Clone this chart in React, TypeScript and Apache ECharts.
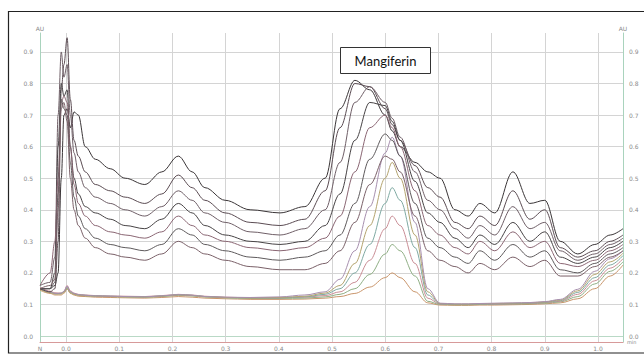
import React, { useEffect, useRef } from 'react';
import * as echarts from 'echarts';

// retention time axis keypoints
const times = [-0.049, -0.030, -0.021, -0.015, -0.009, -0.004, 0.002, 0.008, 0.015, 0.023, 0.036, 0.055, 0.083, 0.111, 0.148, 0.180, 0.211, 0.237, 0.261, 0.299, 0.346, 0.402, 0.449, 0.487, 0.515, 0.543, 0.571, 0.600, 0.613, 0.628, 0.656, 0.680, 0.703, 0.731, 0.756, 0.778, 0.806, 0.840, 0.872, 0.900, 0.929, 0.962, 0.994, 1.023, 1.047];

// sample extracts
const sample1 = [0.15, 0.15, 0.16, 0.2, 0.5, 0.7, 0.72, 0.66, 0.71, 0.7, 0.6, 0.56, 0.53, 0.5, 0.48, 0.52, 0.57, 0.52, 0.47, 0.43, 0.4, 0.39, 0.41, 0.5, 0.72, 0.81, 0.78, 0.7, 0.65, 0.6, 0.55, 0.52, 0.5, 0.4, 0.38, 0.42, 0.39, 0.52, 0.42, 0.43, 0.3, 0.26, 0.29, 0.32, 0.34];
const sample2 = [0.15, 0.14, 0.15, 0.3, 0.78, 0.86, 0.945, 0.75, 0.62, 0.57, 0.52, 0.48, 0.46, 0.44, 0.42, 0.45, 0.51, 0.47, 0.43, 0.39, 0.36, 0.35, 0.37, 0.46, 0.66, 0.8, 0.79, 0.72, 0.67, 0.62, 0.54, 0.47, 0.44, 0.36, 0.34, 0.38, 0.35, 0.46, 0.37, 0.4, 0.28, 0.25, 0.27, 0.3, 0.32];
const sample3 = [0.16, 0.17, 0.25, 0.7, 0.9, 0.82, 0.86, 0.7, 0.58, 0.52, 0.47, 0.44, 0.42, 0.4, 0.38, 0.41, 0.46, 0.43, 0.39, 0.36, 0.33, 0.32, 0.34, 0.4, 0.55, 0.74, 0.79, 0.74, 0.69, 0.63, 0.52, 0.43, 0.4, 0.34, 0.31, 0.35, 0.32, 0.41, 0.34, 0.36, 0.27, 0.24, 0.26, 0.29, 0.31];
const sample4 = [0.15, 0.15, 0.2, 0.6, 0.8, 0.76, 0.78, 0.6, 0.5, 0.45, 0.41, 0.39, 0.37, 0.35, 0.34, 0.37, 0.42, 0.39, 0.35, 0.32, 0.3, 0.29, 0.3, 0.35, 0.45, 0.62, 0.74, 0.73, 0.68, 0.62, 0.49, 0.39, 0.36, 0.31, 0.28, 0.32, 0.29, 0.36, 0.3, 0.33, 0.25, 0.23, 0.25, 0.28, 0.3];
const sample5 = [0.16, 0.2, 0.3, 0.5, 0.74, 0.76, 0.74, 0.6, 0.48, 0.42, 0.38, 0.35, 0.33, 0.32, 0.31, 0.33, 0.38, 0.35, 0.32, 0.3, 0.28, 0.27, 0.28, 0.31, 0.38, 0.52, 0.66, 0.7, 0.66, 0.6, 0.46, 0.35, 0.32, 0.28, 0.26, 0.3, 0.27, 0.33, 0.28, 0.3, 0.23, 0.22, 0.24, 0.27, 0.29];
const sample6 = [0.15, 0.15, 0.17, 0.45, 0.75, 0.72, 0.7, 0.55, 0.44, 0.38, 0.34, 0.31, 0.29, 0.28, 0.27, 0.29, 0.34, 0.32, 0.29, 0.27, 0.25, 0.24, 0.25, 0.27, 0.32, 0.42, 0.56, 0.64, 0.62, 0.57, 0.42, 0.31, 0.28, 0.25, 0.23, 0.27, 0.24, 0.29, 0.25, 0.27, 0.21, 0.2, 0.23, 0.26, 0.28];
const sample7 = [0.15, 0.16, 0.18, 0.4, 0.72, 0.74, 0.68, 0.5, 0.4, 0.35, 0.31, 0.28, 0.26, 0.25, 0.24, 0.26, 0.3, 0.28, 0.26, 0.24, 0.22, 0.21, 0.21, 0.23, 0.27, 0.36, 0.48, 0.57, 0.56, 0.52, 0.38, 0.27, 0.24, 0.22, 0.2, 0.23, 0.21, 0.25, 0.22, 0.24, 0.19, 0.19, 0.22, 0.25, 0.27];

// mangiferin standards
const standard1 = [0.145, 0.135, 0.13, 0.13, 0.13, 0.135, 0.15, 0.135, 0.13, 0.126, 0.125, 0.123, 0.122, 0.121, 0.12, 0.122, 0.125, 0.123, 0.12, 0.118, 0.116, 0.116, 0.117, 0.12, 0.125, 0.135, 0.155, 0.185, 0.2, 0.185, 0.14, 0.105, 0.098, 0.097, 0.097, 0.098, 0.098, 0.099, 0.1, 0.102, 0.105, 0.118, 0.15, 0.19, 0.225];
const standard2 = [0.15, 0.14, 0.135, 0.135, 0.135, 0.14, 0.155, 0.14, 0.134, 0.13, 0.128, 0.126, 0.125, 0.124, 0.123, 0.125, 0.129, 0.127, 0.124, 0.121, 0.119, 0.119, 0.12, 0.124, 0.132, 0.15, 0.195, 0.26, 0.29, 0.27, 0.19, 0.11, 0.1, 0.099, 0.099, 0.1, 0.1, 0.101, 0.102, 0.104, 0.108, 0.125, 0.165, 0.205, 0.235];
const standard3 = [0.155, 0.142, 0.137, 0.136, 0.136, 0.142, 0.16, 0.143, 0.136, 0.132, 0.13, 0.128, 0.127, 0.126, 0.125, 0.128, 0.132, 0.13, 0.126, 0.123, 0.121, 0.121, 0.123, 0.128, 0.14, 0.17, 0.24, 0.34, 0.38, 0.35, 0.23, 0.12, 0.101, 0.1, 0.1, 0.101, 0.101, 0.102, 0.103, 0.106, 0.11, 0.132, 0.175, 0.215, 0.245];
const standard4 = [0.15, 0.138, 0.134, 0.134, 0.135, 0.14, 0.152, 0.138, 0.133, 0.13, 0.129, 0.127, 0.126, 0.125, 0.124, 0.127, 0.131, 0.129, 0.125, 0.122, 0.12, 0.121, 0.124, 0.132, 0.15, 0.2, 0.29, 0.42, 0.47, 0.43, 0.28, 0.13, 0.102, 0.1, 0.1, 0.101, 0.102, 0.103, 0.104, 0.107, 0.112, 0.138, 0.185, 0.225, 0.255];
const standard5 = [0.148, 0.137, 0.133, 0.133, 0.133, 0.138, 0.15, 0.137, 0.132, 0.129, 0.127, 0.126, 0.125, 0.124, 0.123, 0.126, 0.13, 0.128, 0.124, 0.122, 0.12, 0.122, 0.126, 0.136, 0.16, 0.23, 0.35, 0.5, 0.55, 0.5, 0.32, 0.14, 0.103, 0.101, 0.101, 0.102, 0.103, 0.104, 0.105, 0.108, 0.114, 0.143, 0.195, 0.235, 0.262];
const standard6 = [0.152, 0.14, 0.135, 0.135, 0.136, 0.141, 0.158, 0.141, 0.135, 0.131, 0.129, 0.127, 0.126, 0.125, 0.124, 0.127, 0.131, 0.129, 0.125, 0.123, 0.122, 0.124, 0.13, 0.14, 0.18, 0.27, 0.41, 0.58, 0.63, 0.57, 0.36, 0.15, 0.104, 0.102, 0.102, 0.103, 0.104, 0.105, 0.106, 0.109, 0.116, 0.148, 0.205, 0.245, 0.27];

const yTicks = [0, 0.1, 0.2, 0.3, 0.4, 0.5, 0.6, 0.7, 0.8, 0.9];
const yTickLabels = ['0.0', '0.1', '0.2', '0.3', '0.4', '0.5', '0.6', '0.7', '0.8', '0.9'];
const xTicks = [0, 0.1, 0.2, 0.3, 0.4, 0.5, 0.6, 0.7, 0.8, 0.9, 1.0];
const xLabelValues = [-0.049, 0, 0.1, 0.2, 0.3, 0.4, 0.5, 0.6, 0.7, 0.8, 0.9, 1.0];
const xLabelTexts = ['N', '0.0', '0.1', '0.2', '0.3', '0.4', '0.5', '0.6', '0.7', '0.8', '0.9', '1.0'];
const peakLabel = 'Mangiferin';

const standards = [standard1, standard2, standard3, standard4, standard5, standard6];
const samples = [sample1, sample2, sample3, sample4, sample5, sample6, sample7];
const standardColors = ['#c9956b', '#8fae84', '#c98d95', '#7fa9a2', '#b3a36e', '#a78fae'];
const sampleColors = ['#3a3537', '#5b4c53', '#6f5f67', '#474345', '#8a6673', '#5e5a5c', '#7a6068'];

const lookup = (vals: number[], texts: string[]) => (v: number) => {
  const i = vals.findIndex((x) => Math.abs(x - v) < 1e-6);
  return i >= 0 ? texts[i] : '';
};

export default function App() {
  const ref = useRef<HTMLDivElement>(null);
  useEffect(() => {
    if (!ref.current) return;
    const chart = echarts.init(ref.current, undefined, { renderer: 'svg' });
    const mk = (vals: number[], color: string, name: string) => ({
      type: 'line',
      name,
      data: times.map((t, i) => [t, vals[i]]),
      showSymbol: false,
      smooth: 0.35,
      smoothMonotone: 'x',
      silent: true,
      lineStyle: { color, width: 1 },
    });
    const series = [
      ...standards.map((s, i) => mk(s, standardColors[i], 'Standard ' + (i + 1))),
      ...samples.map((s, i) => mk(s, sampleColors[i], 'Sample ' + (i + 1))),
    ];
    const labelStyle = { fontSize: 6, color: '#8a8a8a', fontFamily: 'DejaVu Sans' };
    chart.setOption({
      animation: false,
      backgroundColor: '#ffffff',
      grid: { left: 40, right: 21, top: 33, bottom: 18, containLabel: false, outerBoundsMode: 'none' },
      xAxis: {
        type: 'value',
        min: -0.049,
        max: 1.047,
        name: 'min',
        nameLocation: 'end',
        nameGap: 4,
        nameTextStyle: { ...labelStyle, fontSize: 5, padding: [4, 0, 0, 0] },
        axisLine: { show: true, onZero: false, lineStyle: { color: '#d79a9a', width: 1 } },
        axisTick: { show: false, customValues: xTicks },
        axisLabel: { ...labelStyle, customValues: xLabelValues, formatter: lookup(xLabelValues, xLabelTexts), margin: 3 },
        splitLine: { show: true, lineStyle: { color: '#d4d4d4', width: 1 } },
      },
      yAxis: [
        {
          type: 'value',
          min: -0.019,
          max: 0.96,
          position: 'left',
          name: 'AU',
          nameLocation: 'end',
          nameGap: 2,
          nameTextStyle: { ...labelStyle },
          axisLine: { show: true, onZero: false, lineStyle: { color: '#a9d3bd', width: 1 } },
          axisTick: { show: false, customValues: yTicks },
          axisLabel: { ...labelStyle, customValues: yTicks, formatter: lookup(yTicks, yTickLabels), margin: 7 },
          splitLine: { show: true, lineStyle: { color: ['#b9d9c6', '#d4d4d4', '#d4d4d4', '#d4d4d4', '#d4d4d4', '#d4d4d4', '#d4d4d4', '#d4d4d4', '#d4d4d4', '#d4d4d4'], width: 1 } },
        },
        {
          type: 'value',
          min: -0.019,
          max: 0.96,
          position: 'right',
          name: 'AU',
          nameLocation: 'end',
          nameGap: 2,
          nameTextStyle: { ...labelStyle },
          axisLine: { show: true, onZero: false, lineStyle: { color: '#a9d3bd', width: 1 } },
          axisTick: { show: false, customValues: yTicks },
          axisLabel: { ...labelStyle, customValues: yTicks, formatter: lookup(yTicks, yTickLabels), margin: 6, padding: [10, 0, 0, 0] },
          splitLine: { show: false },
        },
      ],
      series,
      graphic: [
        {
          type: 'rect',
          z: 100,
          shape: { x: 8.5, y: 11.5, width: 640, height: 341.5 },
          style: { fill: 'none', stroke: '#222222', lineWidth: 1.2 },
        },
        {
          type: 'rect',
          z: 100,
          shape: { x: 340.5, y: 47.5, width: 90, height: 26 },
          style: { fill: '#ffffff', stroke: '#333333', lineWidth: 1 },
        },
        {
          type: 'text',
          z: 101,
          x: 385.5,
          y: 61,
          style: { text: peakLabel, fontSize: 13, fontFamily: 'Lato', fill: '#111111', align: 'center', verticalAlign: 'middle' },
        },
      ],
    });
    return () => chart.dispose();
  }, []);
  return <div ref={ref} style={{ position: 'fixed', left: 0, top: 0, width: 644, height: 360, background: '#fff' }} />;
}
